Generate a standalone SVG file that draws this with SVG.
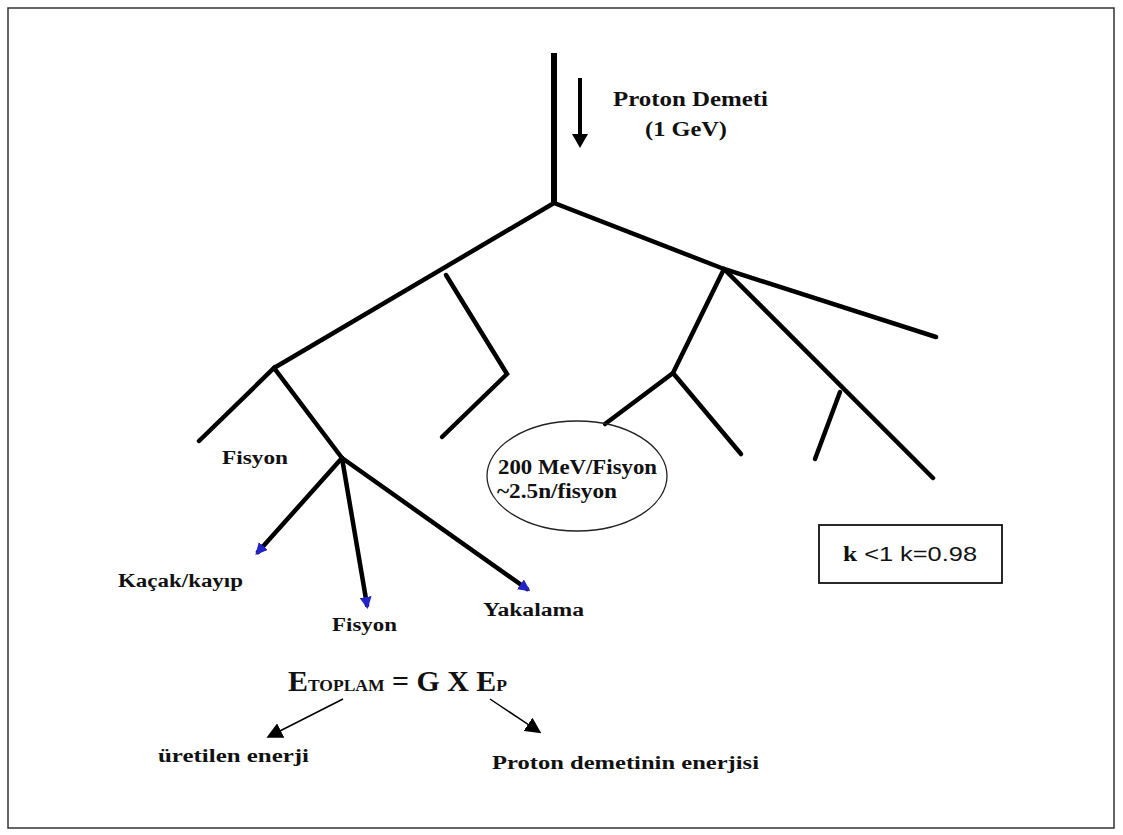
<svg xmlns="http://www.w3.org/2000/svg" width="1123" height="835" viewBox="0 0 1123 835">
<style>
.b{stroke:#000;stroke-width:4.5;stroke-linecap:round;fill:none}
.t{font-family:"Liberation Serif","Times New Roman",serif;font-weight:bold;fill:#111}
.s{font-family:"Liberation Sans",Arial,sans-serif;fill:#111}
.thin{stroke:#000;stroke-width:1.5;fill:none}
</style>
<defs>
<marker id="blue" markerUnits="userSpaceOnUse" markerWidth="14" markerHeight="12" refX="8" refY="6" orient="auto" viewBox="0 0 14 12">
<path d="M0,0 L12,6 L0,12 Z" fill="#2323c8"/>
</marker>
<marker id="blk" markerUnits="userSpaceOnUse" markerWidth="16" markerHeight="16" refX="12" refY="8" orient="auto" viewBox="0 0 16 16">
<path d="M0,0 L16,8 L0,16 Z" fill="#000"/>
</marker>
</defs>
<rect x="8" y="8" width="1106" height="820" fill="#fff" stroke="#333" stroke-width="1.5"/>
<g id="connectors">
<line x1="554" y1="53" x2="554" y2="203" stroke="#000" stroke-width="6"/>
<line x1="580" y1="78" x2="580" y2="134" stroke="#000" stroke-width="4"/>
<path d="M572,134 L588,134 L580,148 Z" fill="#000"/>
<polyline class="b" points="274,368 554,203 724,269 936,337"/>
<polyline class="b" points="446,275 507,374 442,437"/>
<polyline class="b" points="199,441 274,368 342,458"/>
<line class="b" x1="342" y1="458" x2="258" y2="552" marker-end="url(#blue)"/>
<line class="b" x1="342" y1="458" x2="367" y2="605" marker-end="url(#blue)"/>
<line class="b" x1="342" y1="458" x2="527" y2="589" marker-end="url(#blue)"/>
<polyline class="b" points="724,269 673,373 605,424"/>
<line class="b" x1="673" y1="373" x2="741" y2="454"/>
<line class="b" x1="724" y1="269" x2="933" y2="478"/>
<line class="b" x1="840" y1="392" x2="815" y2="459"/>
<line class="thin" x1="343" y1="699" x2="270" y2="736" marker-end="url(#blk)"/>
<line class="thin" x1="490" y1="699" x2="538" y2="731" marker-end="url(#blk)"/>
</g>
<g id="proton">
<text class="t" x="613" y="106" font-size="20" textLength="155" lengthAdjust="spacingAndGlyphs">Proton Demeti</text>
<text class="t" x="645" y="136" font-size="20" textLength="82" lengthAdjust="spacingAndGlyphs">(1 GeV)</text>
</g>
<g id="ellipse">
<ellipse cx="577" cy="476" rx="90" ry="55" fill="none" stroke="#222" stroke-width="1.3"/>
<text class="t" x="498" y="474" font-size="20" textLength="159" lengthAdjust="spacingAndGlyphs">200 MeV/Fisyon</text>
<text class="t" x="497" y="498" font-size="20" textLength="120" lengthAdjust="spacingAndGlyphs">~2.5n/fisyon</text>
</g>
<g id="kbox">
<rect x="819" y="525" width="183" height="58" fill="none" stroke="#111" stroke-width="1.8"/>
<text x="843" y="561" font-size="21" textLength="134" lengthAdjust="spacingAndGlyphs"><tspan class="t">k</tspan><tspan class="s"> &lt;1  k=0.98</tspan></text>
</g>
<g id="labels">
<text class="t" x="222" y="464" font-size="18" textLength="66" lengthAdjust="spacingAndGlyphs">Fisyon</text>
<text class="t" x="118" y="587" font-size="18" textLength="125" lengthAdjust="spacingAndGlyphs">Kaçak/kayıp</text>
<text class="t" x="332" y="631" font-size="18" textLength="65" lengthAdjust="spacingAndGlyphs">Fisyon</text>
<text class="t" x="483" y="616" font-size="18" textLength="101" lengthAdjust="spacingAndGlyphs">Yakalama</text>
</g>
<g id="formula">
<text class="t" x="288" y="691" font-size="29" textLength="219" lengthAdjust="spacingAndGlyphs">E<tspan font-size="17">TOPLAM</tspan> = G X E<tspan font-size="17">P</tspan></text>
<text class="t" x="158" y="762" font-size="18" textLength="151" lengthAdjust="spacingAndGlyphs">üretilen enerji</text>
<text class="t" x="492" y="769" font-size="18" textLength="267" lengthAdjust="spacingAndGlyphs">Proton demetinin enerjisi</text>
</g>
</svg>
